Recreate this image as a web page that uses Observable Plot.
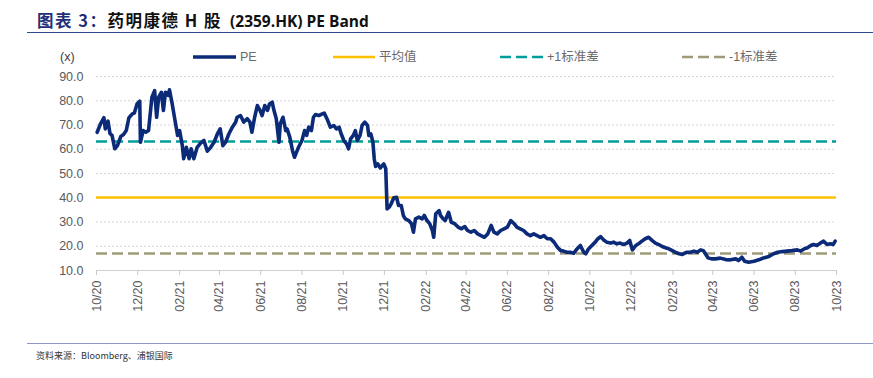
<!DOCTYPE html>
<html>
<head>
<meta charset="utf-8">
<script src="https://cdn.jsdelivr.net/npm/d3@7"></script>
<script src="https://cdn.jsdelivr.net/npm/@observablehq/plot@0.6"></script>
<style>
  body { margin: 0; background: #fff; font-family: "Liberation Sans", "Noto Sans CJK SC", sans-serif; }
  #wrap { position: relative; width: 873px; height: 378px; overflow: hidden; }
  #title { position: absolute; left: 37px; top: 8px; font-size: 15.5px; font-weight: bold; color: #111; font-family: "Open Sans", "Noto Sans CJK SC", sans-serif; white-space: nowrap; }
  #title .cjk { font-family: "Noto Sans CJK SC", sans-serif; font-size: 16.5px; letter-spacing: 1.5px; }
  #title .lead { color: #1f2f78; }
  #rule1 { position: absolute; left: 27px; right: 0; top: 32px; height: 0; border-top: 1.5px solid #2d4a8a; }
  #rule2 { position: absolute; left: 27px; right: 0; top: 343px; height: 0; border-top: 1px solid #8f98c2; }
  #caption { position: absolute; left: 36px; top: 349px; font-size: 9px; color: #333; font-family: "Noto Sans CJK SC", sans-serif; white-space: nowrap; }
  #chart { position: absolute; left: 0; top: 40px; }
  .leg { position: absolute; top: 49px; height: 16px; font-size: 12.5px; color: #6a6a6a; white-space: nowrap; font-family: "Liberation Sans", "Noto Sans CJK SC", sans-serif; line-height: 16px; }
  .leg svg { position: absolute; left: 0; top: 0; }
  .leg span { position: absolute; top: 0; }
  #unit { position: absolute; left: 60px; top: 49px; font-size: 12.5px; color: #404040; line-height: 16px; }
</style>
</head>
<body>
<div id="wrap">
  <div id="title"><span class="cjk lead">图表 3：</span><span class="cjk">药明康德 H 股</span>&nbsp;&nbsp;(2359.HK) PE Band</div>
  <div id="rule1"></div>
  <div id="unit">(x)</div>
  <div id="legend"></div>
  <div id="chart"></div>
  <div id="rule2"></div>
  <div id="caption">资料来源：Bloomberg、浦银国际</div>
</div>
<script>
// ---- data ----
const dates = [
"2020-10-02","2020-10-07","2020-10-12","2020-10-14","2020-10-18","2020-10-21","2020-10-24","2020-10-28","2020-11-01","2020-11-06",
"2020-11-10","2020-11-14","2020-11-18","2020-11-23","2020-11-26","2020-11-30","2020-12-04","2020-12-05","2020-12-09","2020-12-13",
"2020-12-17","2020-12-22","2020-12-26","2020-12-29","2021-01-01","2021-01-05","2021-01-08","2021-01-11","2021-01-15","2021-01-17",
"2021-01-21","2021-01-26","2021-01-29","2021-02-01","2021-02-05","2021-02-07","2021-02-11","2021-02-15","2021-02-18","2021-02-22",
"2021-02-27","2021-03-04","2021-03-09","2021-03-14","2021-03-19","2021-03-24","2021-03-29","2021-04-02","2021-04-06","2021-04-10",
"2021-04-15","2021-04-20","2021-04-25","2021-04-27","2021-05-02","2021-05-07","2021-05-12","2021-05-16","2021-05-19","2021-05-23",
"2021-05-27","2021-05-31","2021-06-03","2021-06-07","2021-06-11","2021-06-14","2021-06-18","2021-06-20","2021-06-24","2021-06-28",
"2021-06-30","2021-07-04","2021-07-08","2021-07-10","2021-07-14","2021-07-18","2021-07-21","2021-07-24","2021-07-27","2021-08-01",
"2021-08-05","2021-08-08","2021-08-11","2021-08-15","2021-08-18","2021-08-21","2021-08-26","2021-08-31","2021-09-03","2021-09-07",
"2021-09-12","2021-09-17","2021-09-21","2021-09-25","2021-09-28","2021-10-02","2021-10-06","2021-10-09","2021-10-12","2021-10-16",
"2021-10-19","2021-10-22","2021-10-26","2021-10-29","2021-11-02","2021-11-06","2021-11-08","2021-11-11","2021-11-14","2021-11-16",
"2021-11-18","2021-11-21","2021-11-25","2021-11-30","2021-12-03","2021-12-05","2021-12-08","2021-12-11","2021-12-15","2021-12-19",
"2021-12-22","2021-12-26","2021-12-29","2022-01-01","2022-01-06","2022-01-10","2022-01-13","2022-01-16","2022-01-21","2022-01-26",
"2022-01-29","2022-02-02","2022-02-06","2022-02-10","2022-02-12","2022-02-15","2022-02-20","2022-02-22","2022-02-26","2022-03-01",
"2022-03-06","2022-03-10","2022-03-15","2022-03-20","2022-03-25","2022-03-30","2022-04-03","2022-04-08","2022-04-13","2022-04-18",
"2022-04-23","2022-04-28","2022-05-03","2022-05-08","2022-05-12","2022-05-17","2022-05-22","2022-05-27","2022-06-01","2022-06-06",
"2022-06-11","2022-06-15","2022-06-20","2022-06-25","2022-06-30","2022-07-05","2022-07-10","2022-07-15","2022-07-20","2022-07-25",
"2022-07-30","2022-08-04","2022-08-09","2022-08-14","2022-08-19","2022-08-23","2022-08-28","2022-09-02","2022-09-07","2022-09-12",
"2022-09-17","2022-09-22","2022-09-25","2022-09-29","2022-10-04","2022-10-09","2022-10-13","2022-10-17","2022-10-21","2022-10-26",
"2022-11-01","2022-11-05","2022-11-10","2022-11-15","2022-11-20","2022-11-25","2022-11-29","2022-12-03","2022-12-08","2022-12-12",
"2022-12-17","2022-12-22","2022-12-27","2023-01-01","2023-01-06","2023-01-11","2023-01-16","2023-01-21","2023-01-26","2023-01-31",
"2023-02-05","2023-02-10","2023-02-15","2023-02-18","2023-02-22","2023-02-27","2023-03-04","2023-03-09","2023-03-14","2023-03-18",
"2023-03-21","2023-03-25","2023-03-30","2023-04-05","2023-04-12","2023-04-20","2023-04-27","2023-05-05","2023-05-09","2023-05-14",
"2023-05-18","2023-05-24","2023-06-01","2023-06-08","2023-06-15","2023-06-23","2023-06-30","2023-07-06","2023-07-13","2023-07-20",
"2023-07-27","2023-08-04","2023-08-09","2023-08-14","2023-08-19","2023-08-24","2023-08-28","2023-09-02","2023-09-07","2023-09-12",
"2023-09-17","2023-09-22","2023-09-26","2023-09-29"
];
const pe = [
67.0,70.5,73.0,68.4,71.6,66.4,65.7,60.2,61.5,65.3,
66.1,67.7,73.0,74.6,74.9,78.7,79.8,62.9,67.7,67.0,
67.7,81.5,84.2,73.2,81.5,83.5,76.0,83.5,82.2,84.5,
78.7,70.5,65.7,67.7,61.5,56.1,60.8,56.1,60.2,56.1,
60.8,62.5,63.6,59.2,60.8,62.9,66.4,68.4,61.5,62.9,
66.4,69.1,71.2,73.2,73.9,71.2,72.6,71.2,67.0,73.2,
78.0,76.0,73.9,78.0,76.0,78.7,79.4,76.7,72.6,62.9,
70.5,73.2,67.7,68.4,65.0,59.5,56.7,58.8,60.8,63.6,
67.7,65.7,69.1,67.7,73.2,74.3,73.9,74.6,74.9,72.6,
69.1,69.8,68.4,69.1,66.4,63.6,62.2,60.2,64.3,65.7,
67.7,63.6,65.7,69.8,71.2,69.8,65.7,66.3,62.9,56.0,
52.9,54.0,52.3,54.0,52.0,35.4,36.1,37.5,40.0,40.2,
36.8,36.8,32.7,31.3,30.6,29.3,25.8,31.3,32.0,31.3,
32.7,30.6,29.3,26.5,23.7,33.4,34.7,32.7,31.3,30.6,
34.0,29.9,29.3,27.9,27.2,28.1,26.5,25.8,26.5,25.1,
24.4,23.7,25.1,28.6,25.8,25.1,26.5,27.2,27.9,30.6,
29.3,27.9,27.2,26.5,25.1,24.4,25.1,24.4,23.7,24.4,
23.1,23.1,21.7,19.6,18.2,18.0,17.5,17.5,17.1,18.9,
20.3,17.5,16.9,18.9,20.3,21.7,23.1,24.0,22.7,21.7,
21.3,21.7,21.0,21.3,20.7,21.3,22.4,18.5,20.3,21.0,
22.1,23.1,23.7,22.4,21.3,20.7,19.9,19.4,18.9,18.2,
17.5,16.9,16.6,17.1,17.5,17.5,18.0,17.5,18.5,18.2,
16.9,15.2,14.8,14.8,15.1,14.5,14.4,14.8,14.1,15.5,
13.8,13.4,13.8,14.4,15.2,15.8,16.9,17.5,17.8,18.0,
18.2,18.5,18.0,18.9,19.4,20.3,20.7,20.3,21.3,22.1,
20.7,21.0,20.7,22.1
];
const meanPE = 40.1;
const plus1SD = 63.2;
const minus1SD = 17.0;
const yTicks = [10, 20, 30, 40, 50, 60, 70, 80, 90];
const xTickDates = ["2020-10-01","2020-12-01","2021-02-01","2021-04-01","2021-06-01","2021-08-01","2021-10-01","2021-12-01",
  "2022-02-01","2022-04-01","2022-06-01","2022-08-01","2022-10-01","2022-12-01","2023-02-01","2023-04-01",
  "2023-06-01","2023-08-01","2023-10-01"];
const legendItems = [
  {label: "PE", color: "#0b2a78", width: 3.5, dash: null, left: 193, lineW: 43},
  {label: "平均值", color: "#ffc000", width: 2.5, dash: null, left: 333, lineW: 42},
  {label: "+1标准差", color: "#009e98", width: 2.5, dash: "11,5", left: 500, lineW: 43},
  {label: "-1标准差", color: "#9e9a7a", width: 2.5, dash: "11,5", left: 682, lineW: 43}
];

// ---- build ----
const parse = d3.utcParse("%Y-%m-%d");
const table = dates.map((d, i) => ({date: parse(d), pe: pe[i]}));
const xTicks = xTickDates.map(parse);
const fmt = d3.utcFormat("%m/%y");

const chart = Plot.plot({
  width: 873,
  height: 290,
  marginLeft: 96,
  marginRight: 37,
  marginTop: 36,
  marginBottom: 60,
  style: {fontFamily: "Liberation Sans, sans-serif", fontSize: "12.5px", color: "#595959", background: "transparent"},
  x: {type: "utc", domain: [xTicks[0], xTicks[xTicks.length - 1]]},
  y: {domain: [10, 90]},
  marks: [
    Plot.gridY(yTicks.slice(1), {stroke: "#d4d4d4", strokeOpacity: 1, strokeDasharray: "2,2"}),
    Plot.ruleY([10], {stroke: "#d0d0d0", strokeWidth: 1}),
    Plot.axisY({ticks: yTicks, tickFormat: d => d.toFixed(1), tickSize: 0, tickPadding: 13, label: null, fill: "#595959"}),
    Plot.axisX({ticks: xTicks, tickFormat: fmt, tickSize: 5, tickPadding: 5, tickRotate: -90, label: null, stroke: "#c8c8c8", fill: "#595959"}),
    Plot.ruleY([meanPE], {stroke: "#ffc000", strokeWidth: 2.5}),
    Plot.ruleY([plus1SD], {stroke: "#009e98", strokeWidth: 2.5, strokeDasharray: "11,5"}),
    Plot.ruleY([minus1SD], {stroke: "#9e9a7a", strokeWidth: 2.5, strokeDasharray: "11,5"}),
    Plot.line(table, {x: "date", y: "pe", stroke: "#0b2a78", strokeWidth: 3.6, strokeLinejoin: "round", strokeLinecap: "round"})
  ]
});
document.getElementById("chart").appendChild(chart);

const legend = document.getElementById("legend");
for (const it of legendItems) {
  const div = document.createElement("div");
  div.className = "leg";
  div.style.left = it.left + "px";
  div.innerHTML = `<svg width="${it.lineW}" height="16"><line x1="0" x2="${it.lineW}" y1="8" y2="8" stroke="${it.color}" stroke-width="${it.width}" ${it.dash ? `stroke-dasharray="${it.dash}"` : ""}/></svg><span style="left:${it.lineW + 4}px">${it.label}</span>`;
  legend.appendChild(div);
}
</script>
</body>
</html>
